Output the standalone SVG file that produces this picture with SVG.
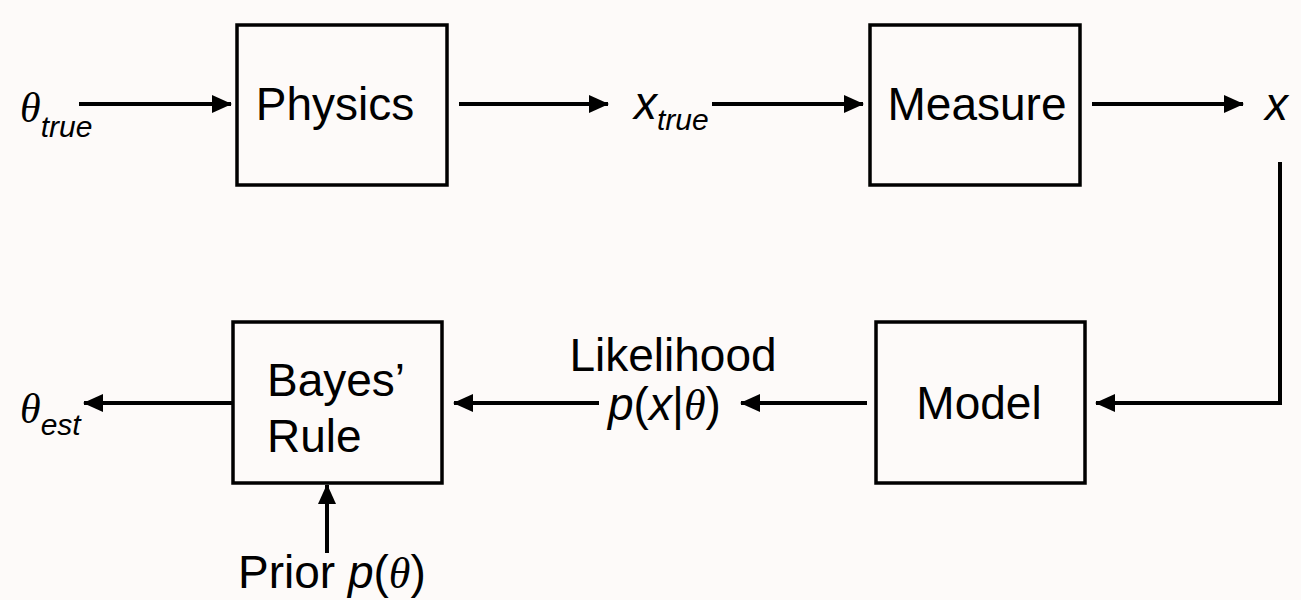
<svg xmlns="http://www.w3.org/2000/svg" width="1301" height="600" viewBox="0 0 1301 600">
<style>
.box{fill:none;stroke:#000;stroke-width:3.5}
.lbl{font-family:"Liberation Sans",Arial,sans-serif;font-size:46px;fill:#000}
.up{font-family:"Liberation Sans",Arial,sans-serif;font-style:normal;fill:#000}
.it{font-family:"Liberation Sans",Arial,sans-serif;font-style:italic;fill:#000}
.th{font-family:"Liberation Serif","Times New Roman",serif;font-style:italic;fill:#000}
.ln{fill:none;stroke:#000;stroke-width:4;marker-end:url(#ah)}
</style>
<defs>
<marker id="ah" markerUnits="userSpaceOnUse" markerWidth="20" markerHeight="18" refX="19" refY="9" orient="auto">
<path d="M0,0 L20,9 L0,18 z" fill="#000"/>
</marker>
</defs>
<rect width="1301" height="600" fill="#fdfaf9"/>
<g id="physics"><rect class="box" x="237" y="25" width="210" height="160"/><text class="lbl" x="335" y="120" text-anchor="middle">Physics</text></g>
<g id="measure"><rect class="box" x="870" y="25" width="210" height="160"/><text class="lbl" x="977" y="120" text-anchor="middle">Measure</text></g>
<g id="model"><rect class="box" x="876" y="322" width="209" height="161"/><text class="lbl" x="979" y="419" text-anchor="middle">Model</text></g>
<g id="bayes"><rect class="box" x="233" y="322" width="209" height="161"/><text class="lbl" x="267" y="396">Bayes’</text><text class="lbl" x="267" y="452">Rule</text></g>
<g id="theta_true"><text x="20" y="122"><tspan class="th" font-size="42">θ</tspan><tspan class="it" font-size="30" y="137">true</tspan></text></g>
<g id="x_true"><text x="634" y="119"><tspan class="it" font-size="46">x</tspan><tspan class="it" font-size="30" y="130">true</tspan></text></g>
<g id="x_out"><text class="it" font-size="46" x="1265" y="120">x</text></g>
<g id="theta_est"><text x="20" y="423"><tspan class="th" font-size="42">θ</tspan><tspan class="it" font-size="30" y="435">est</tspan></text></g>
<g id="likelihood"><text class="lbl" x="673" y="371" text-anchor="middle">Likelihood</text><text x="608" y="420"><tspan class="it" font-size="46">p</tspan><tspan class="up" font-size="46">(</tspan><tspan class="it" font-size="46">x</tspan><tspan class="up" font-size="46">|</tspan><tspan class="th" font-size="44">θ</tspan><tspan class="up" font-size="46">)</tspan></text></g>
<g id="prior"><text x="238" y="588"><tspan class="lbl">Prior </tspan><tspan class="it" font-size="46">p</tspan><tspan class="up" font-size="46">(</tspan><tspan class="th" font-size="44">θ</tspan><tspan class="up" font-size="46">)</tspan></text></g>
<g id="connectors">
<line class="ln" x1="79" y1="104" x2="231" y2="104"/>
<line class="ln" x1="459" y1="104" x2="608" y2="104"/>
<line class="ln" x1="712" y1="104" x2="863" y2="104"/>
<line class="ln" x1="1092" y1="104" x2="1243" y2="104"/>
<polyline class="ln" points="1280,162 1280,403 1096,403"/>
<line class="ln" x1="867" y1="403" x2="741" y2="403"/>
<line class="ln" x1="599" y1="403" x2="454" y2="403"/>
<line class="ln" x1="233" y1="403" x2="84" y2="403"/>
<line class="ln" x1="327" y1="553" x2="327" y2="485"/>
</g>
</svg>
